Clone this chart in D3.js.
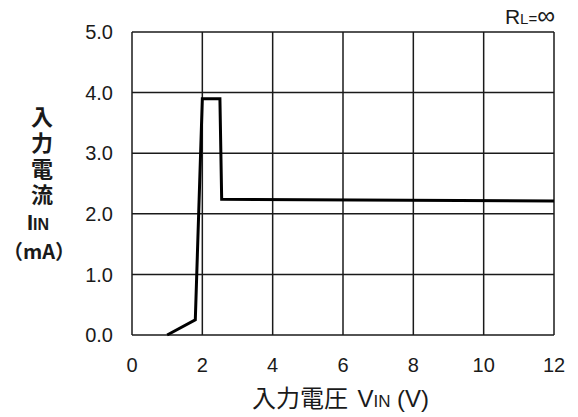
<!DOCTYPE html>
<html>
<head>
<meta charset="utf-8">
<script src="https://cdn.jsdelivr.net/npm/d3@7"></script>
<style>
body { margin: 0; background: #fff; }
text { font-family: "Liberation Sans", Arial, sans-serif; fill: #1a1a1a; }
.jp { font-family: "Noto Sans CJK JP", sans-serif; }
</style>
</head>
<body>
<svg></svg>
<script>
const width = 578;
const height = 417;

// input voltage (V) vs input current (mA)
const vin = [1.0, 1.8, 2.0, 2.5, 2.55, 12];
const iin = [0, 0.25, 3.9, 3.9, 2.24, 2.21];
const xTicks = [0, 2, 4, 6, 8, 10, 12];
const yTicks = [0, 1, 2, 3, 4, 5];

const margin = { top: 32, right: 24, bottom: 82, left: 132 };

const svg = d3.select('svg')
	.attr('width', width)
	.attr('height', height);

const x = d3.scaleLinear()
	.domain([0, 12])
	.range([margin.left, width - margin.right]);
const y = d3.scaleLinear()
	.domain([0, 5])
	.range([height - margin.bottom, margin.top]);

const grid = svg.append('g')
	.attr('stroke', '#1a1a1a')
	.attr('stroke-width', 1.5);

grid.selectAll('.vx').data(xTicks).enter().append('line')
	.attr('x1', d => x(d)).attr('x2', d => x(d))
	.attr('y1', y(0)).attr('y2', y(5));
grid.selectAll('.hy').data(yTicks).enter().append('line')
	.attr('x1', x(0)).attr('x2', x(12))
	.attr('y1', d => y(d)).attr('y2', d => y(d));

// tick labels
svg.append('g').selectAll('text').data(yTicks).enter().append('text')
	.attr('x', x(0) - 19)
	.attr('y', d => y(d))
	.attr('dy', '0.36em')
	.attr('text-anchor', 'end')
	.attr('font-size', 20)
	.text(d => d.toFixed(1));

svg.append('g').selectAll('text').data(xTicks).enter().append('text')
	.attr('x', d => x(d))
	.attr('y', 372)
	.attr('text-anchor', 'middle')
	.attr('font-size', 20)
	.text(d => d);

// data line
const line = d3.line()
	.x((d, i) => x(vin[i]))
	.y(d => y(d));

svg.append('path')
	.datum(iin)
	.attr('d', line)
	.attr('fill', 'none')
	.attr('stroke', '#000')
	.attr('stroke-width', 3)
	.attr('stroke-linejoin', 'miter');

// y axis title: vertical japanese, then IIN and (mA)
svg.append('text')
	.attr('class', 'jp')
	.attr('font-weight', 'bold')
	.attr('font-size', 22)
	.attr('x', 42)
	.attr('y', 106)
	.attr('writing-mode', 'vertical-rl')
	.attr('letter-spacing', 4)
	.text('入力電流');

const iinLabel = svg.append('text')
	.attr('font-weight', 'bold')
	.attr('x', 38).attr('y', 230)
	.attr('text-anchor', 'middle')
	.attr('font-size', 22);
iinLabel.append('tspan').text('I');
iinLabel.append('tspan').attr('font-size', 16).text('IN');

svg.append('text')
	.attr('class', 'jp')
	.attr('font-weight', 'bold')
	.attr('x', 39).attr('y', 259)
	.attr('text-anchor', 'middle')
	.attr('font-size', 20)
	.text('（mA）');

// x axis title
const xt = svg.append('text')
	.attr('x', 252)
	.attr('y', 407)
	.attr('font-size', 24);
xt.append('tspan').attr('class', 'jp').text('入力電圧 ');
xt.append('tspan').attr('dx', 4).text('V');
xt.append('tspan').attr('font-size', 17).text('IN');
xt.append('tspan').text(' (V)');

// load note
const rl = svg.append('text')
	.attr('x', width - margin.right + 1)
	.attr('y', 24)
	.attr('text-anchor', 'end')
	.attr('font-size', 21);
rl.append('tspan').text('R');
rl.append('tspan').attr('font-size', 15).text('L=');
rl.append('tspan').attr('font-size', 25).text('∞');
</script>
</body>
</html>
